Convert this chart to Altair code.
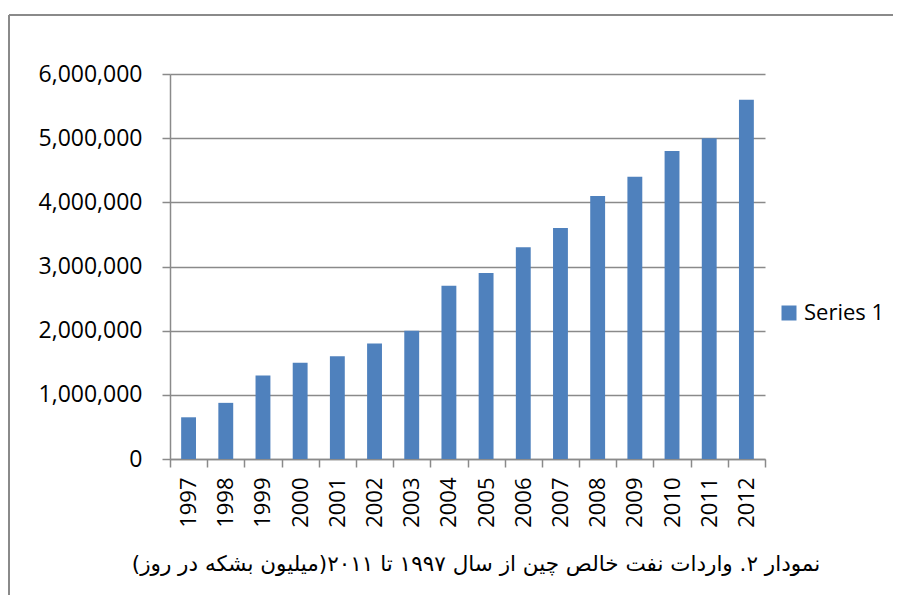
import altair as alt
import pandas as pd

years = ["1997", "1998", "1999", "2000", "2001", "2002", "2003", "2004",
         "2005", "2006", "2007", "2008", "2009", "2010", "2011", "2012"]
values = [650000, 875000, 1300000, 1500000, 1600000, 1800000, 2000000, 2700000,
          2900000, 3300000, 3600000, 4100000, 4400000, 4800000, 5000000, 5600000]
series_name = "Series 1"
y_ticks = [0, 1000000, 2000000, 3000000, 4000000, 5000000, 6000000]
caption = "نمودار ۲. واردات نفت خالص چین از سال ۱۹۹۷ تا ۲۰۱۱(میلیون بشکه در روز)"

df = pd.DataFrame({"year": years, "value": values, "series": [series_name] * len(years)})

W, H = 595, 385
PAD_L, PAD_T, PAD_R, PAD_B = 162, 66, 128, 136
GRAY = "#8a8a8a"

bars = alt.Chart(df).mark_bar(color="#4F81BD", width=alt.RelativeBandSize(0.4)).encode(
    x=alt.X("year:N", sort=years,
            scale=alt.Scale(paddingInner=0, paddingOuter=0),
            axis=alt.Axis(title=None, labelAngle=270, labelFont="Open Sans",
                          labelFontSize=22, labelColor="#000000", labelPadding=10,
                          tickSize=8, tickColor=GRAY, tickWidth=1.5,
                          domainColor=GRAY, domainWidth=1.5, tickBand="extent",
                          grid=False)),
    y=alt.Y("value:Q", scale=alt.Scale(domain=[0, 6000000], nice=False),
            axis=alt.Axis(title=None, values=y_ticks, format=",.0f",
                          labelFont="Open Sans", labelFontSize=23,
                          labelColor="#000000", labelPadding=20,
                          tickSize=8, tickColor=GRAY, tickWidth=1.5,
                          domainColor=GRAY, domainWidth=1.5,
                          grid=True, gridColor=GRAY, gridWidth=1.3)),
    color=alt.Color("series:N",
                    scale=alt.Scale(domain=[series_name], range=["#4F81BD"]),
                    legend=alt.Legend(title=None, orient="none", legendX=608,
                                      legendY=228, symbolType="square",
                                      symbolSize=225, symbolStrokeWidth=0,
                                      labelFont="Open Sans", labelFontSize=22,
                                      labelColor="#000000", padding=0,
                                      labelOffset=4)),
)

cap = alt.Chart(alt.Data(values=[{"t": caption}])).mark_text(
    font="DejaVu Sans", fontSize=21.5, color="#000000", align="center",
    baseline="middle", dir="rtl"
).encode(text="t:N", x=alt.value(306), y=alt.value(491))

one = alt.Data(values=[{"a": 1}])
top_border = alt.Chart(one).mark_rule(color=GRAY, strokeWidth=2).encode(
    x=alt.value(-161), x2=alt.value(735), y=alt.value(-59))
left_border = alt.Chart(one).mark_rule(color=GRAY, strokeWidth=2).encode(
    x=alt.value(-161), y=alt.value(-59), y2=alt.value(540))

chart = alt.layer(bars, cap, top_border, left_border).properties(
    width=W, height=H,
    autosize=alt.AutoSizeParams(type="none"),
    padding={"left": PAD_L, "top": PAD_T, "right": PAD_R, "bottom": PAD_B},
).configure_view(strokeWidth=0)

chart.save("out.html", embed_options={"renderer": "svg", "actions": False})
